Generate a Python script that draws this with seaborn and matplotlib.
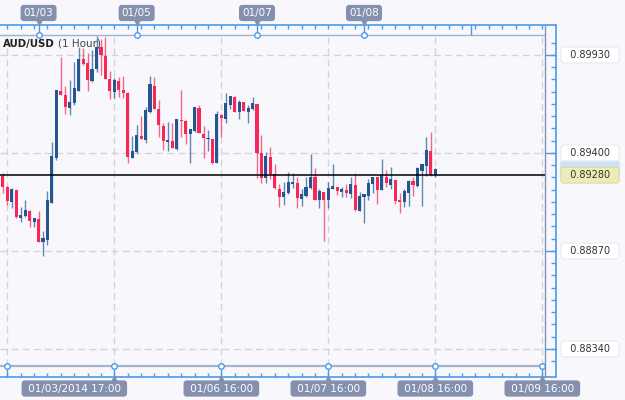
import numpy as np
import matplotlib
matplotlib.use('Agg')
import matplotlib.pyplot as plt
import seaborn as sns

# AUD/USD hourly candles
opens = [0.89276, 0.89218, 0.89137, 0.89200, 0.89047, 0.89059, 0.89085, 0.89029, 0.89042, 0.88917,
         0.88930, 0.89131, 0.89371, 0.89737, 0.89714, 0.89645, 0.89669, 0.89737, 0.89908, 0.89885,
         0.89789, 0.89853, 0.89972, 0.89925, 0.89799, 0.89732, 0.89791, 0.89741, 0.89726, 0.89371,
         0.89407, 0.89492, 0.89470, 0.89623, 0.89764, 0.89638, 0.89546, 0.89461, 0.89467, 0.89420,
         0.89578, 0.89573, 0.89501, 0.89521, 0.89642, 0.89501, 0.89476, 0.89476, 0.89344, 0.89606,
         0.89584, 0.89660, 0.89704, 0.89623, 0.89674, 0.89623, 0.89636, 0.89665, 0.89398, 0.89263,
         0.89380, 0.89286, 0.89205, 0.89160, 0.89182, 0.89232, 0.89236, 0.89150, 0.89169, 0.89209,
         0.89272, 0.89146, 0.89191, 0.89146, 0.89204, 0.89218, 0.89191, 0.89200, 0.89178, 0.89227,
         0.89088, 0.89160, 0.89168, 0.89232, 0.89269, 0.89200, 0.89272, 0.89227, 0.89254, 0.89146,
         0.89137, 0.89185, 0.89249, 0.89222, 0.89304, 0.89330, 0.89411, 0.89281]
highs = [0.89294, 0.89222, 0.89209, 0.89205, 0.89106, 0.89146, 0.89092, 0.89047, 0.89088, 0.88980,
         0.89196, 0.89460, 0.89741, 0.89921, 0.89762, 0.89795, 0.89894, 0.89972, 0.89966, 0.89942,
         0.89957, 0.90033, 0.90017, 0.90027, 0.89845, 0.89807, 0.89809, 0.89816, 0.89732, 0.89492,
         0.89550, 0.89600, 0.89647, 0.89816, 0.89813, 0.89687, 0.89561, 0.89569, 0.89564, 0.89582,
         0.89741, 0.89578, 0.89528, 0.89647, 0.89658, 0.89546, 0.89524, 0.89476, 0.89627, 0.89611,
         0.89726, 0.89708, 0.89708, 0.89687, 0.89674, 0.89660, 0.89701, 0.89665, 0.89497, 0.89407,
         0.89431, 0.89341, 0.89231, 0.89245, 0.89299, 0.89294, 0.89272, 0.89205, 0.89272, 0.89395,
         0.89317, 0.89204, 0.89191, 0.89245, 0.89341, 0.89218, 0.89215, 0.89232, 0.89269, 0.89290,
         0.89191, 0.89178, 0.89258, 0.89272, 0.89269, 0.89368, 0.89308, 0.89326, 0.89254, 0.89185,
         0.89204, 0.89254, 0.89269, 0.89326, 0.89341, 0.89488, 0.89512, 0.89317]
lows = [0.89185, 0.89117, 0.89104, 0.89050, 0.89027, 0.89056, 0.89001, 0.88998, 0.88920, 0.88843,
        0.88902, 0.89128, 0.89362, 0.89714, 0.89611, 0.89606, 0.89660, 0.89737, 0.89876, 0.89737,
        0.89786, 0.89840, 0.89822, 0.89799, 0.89690, 0.89696, 0.89701, 0.89696, 0.89348, 0.89371,
        0.89402, 0.89474, 0.89456, 0.89618, 0.89638, 0.89485, 0.89416, 0.89413, 0.89429, 0.89416,
        0.89488, 0.89449, 0.89348, 0.89515, 0.89507, 0.89375, 0.89411, 0.89339, 0.89344, 0.89488,
        0.89564, 0.89636, 0.89623, 0.89586, 0.89629, 0.89564, 0.89633, 0.89263, 0.89239, 0.89239,
        0.89258, 0.89204, 0.89110, 0.89119, 0.89178, 0.89212, 0.89101, 0.89115, 0.89164, 0.89205,
        0.89146, 0.89101, 0.88926, 0.89101, 0.89204, 0.89173, 0.89164, 0.89164, 0.89155, 0.89088,
        0.89088, 0.89020, 0.89146, 0.89182, 0.89123, 0.89200, 0.89215, 0.89204, 0.89124, 0.89074,
        0.89106, 0.89113, 0.89168, 0.89218, 0.89113, 0.89276, 0.89276, 0.89272]
closes = [0.89218, 0.89142, 0.89205, 0.89052, 0.89065, 0.89092, 0.89034, 0.89047, 0.88920, 0.88940,
          0.89146, 0.89384, 0.89741, 0.89714, 0.89650, 0.89674, 0.89750, 0.89908, 0.89881, 0.89795,
          0.89854, 0.89975, 0.89930, 0.89799, 0.89737, 0.89795, 0.89741, 0.89726, 0.89377, 0.89413,
          0.89497, 0.89474, 0.89633, 0.89772, 0.89638, 0.89551, 0.89467, 0.89472, 0.89429, 0.89582,
          0.89575, 0.89503, 0.89528, 0.89647, 0.89507, 0.89480, 0.89483, 0.89344, 0.89611, 0.89591,
          0.89672, 0.89708, 0.89623, 0.89677, 0.89629, 0.89642, 0.89669, 0.89398, 0.89263, 0.89384,
          0.89286, 0.89209, 0.89164, 0.89191, 0.89245, 0.89242, 0.89155, 0.89177, 0.89218, 0.89272,
          0.89146, 0.89195, 0.89146, 0.89209, 0.89223, 0.89196, 0.89205, 0.89182, 0.89232, 0.89092,
          0.89168, 0.89178, 0.89236, 0.89272, 0.89200, 0.89281, 0.89236, 0.89258, 0.89142, 0.89137,
          0.89196, 0.89250, 0.89227, 0.89317, 0.89341, 0.89416, 0.89281, 0.89312]

last_price = 0.89280
price_levels = [0.89930, 0.89400, 0.88870, 0.88340]
bottom_ticks = [1, 25, 49, 73, 97, 121]
bottom_labels = ['', '01/03/2014 17:00', '01/06 16:00', '01/07 16:00', '01/08 16:00', '01/09 16:00']
top_ticks = [8, 30, 57, 81]
top_labels = ['01/03', '01/05', '01/07', '01/08']

bg = '#F8F8FC'
blue = '#245690'
red = '#F8275A'
axis_blue = '#4A9BE8'
frame_gray = '#A9B3C8'
tag_fill = '#8590AF'

sns.set_theme(style='white', rc={'axes.facecolor': bg, 'figure.facecolor': bg})
plt.rcParams['font.family'] = ['DejaVu Sans']

fig = plt.figure(figsize=(6.25, 4), dpi=100)
ax = fig.add_axes([0, 34 / 400, 545 / 625, 331 / 400])

o = np.array(opens)
c = np.array(closes)
idx = np.arange(len(o))
colors = np.where(c >= o, blue, red)

ax.vlines(idx, lows, highs, colors=colors, lw=1, alpha=0.7, zorder=3)
ax.bar(idx, np.maximum(np.abs(c - o), 0.00005), bottom=np.minimum(o, c), width=0.7,
       color=colors, linewidth=0, zorder=4)
ax.axhline(last_price, color='black', lw=1.1, zorder=5)

ax.set_xticks(bottom_ticks)
ax.set_yticks(price_levels)
ax.grid(True, color='#D3D3DB', lw=1, ls=(0, (5, 3)), zorder=0)
ax.tick_params(length=0, labelbottom=False, labelleft=False)
for s in ax.spines.values():
    s.set_visible(False)

xt = ax.get_xaxis_transform()
yt = ax.get_yaxis_transform()
yb = -11 / 331
ytop = 1 + 10 / 331
xr = 1 + 11 / 545
kw = dict(transform=ax.transAxes, clip_on=False)

# inner gray frame and outer blue frame
ax.plot([0, 1], [0, 0], color=frame_gray, lw=1.6, **kw)
ax.plot([0, 1], [1, 1], color='#9FB1D2', lw=1, **kw)
ax.plot([1, 1], [yb, ytop], color='#7F93B8', lw=1, **kw)
ax.plot([0, xr], [yb, yb], color=axis_blue, lw=1.2, **kw)
ax.plot([0, xr], [ytop, ytop], color=axis_blue, lw=1.2, **kw)
ax.plot([xr, xr], [yb, ytop], color=axis_blue, lw=1.2, **kw)

# bottom ticks
minor = np.arange(1, 122, 3)
ax.vlines(minor, yb, yb + 4 / 331, color=axis_blue, lw=1, transform=xt, clip_on=False)
ax.vlines(bottom_ticks, yb, 0, color=axis_blue, lw=1, transform=xt, clip_on=False)
ax.plot(bottom_ticks, [0] * len(bottom_ticks), 'o', ms=4, mfc='white', mec=axis_blue, mew=1,
        transform=xt, clip_on=False, zorder=6)

# top ticks
ax.vlines(minor, ytop - 4 / 331, ytop, color=axis_blue, lw=1, transform=xt, clip_on=False)
ax.vlines(top_ticks + [105], 1, ytop, color=axis_blue, lw=1, transform=xt, clip_on=False)
ax.plot(top_ticks, [1] * len(top_ticks), 'o', ms=4, mfc='white', mec=axis_blue, mew=1,
        transform=xt, clip_on=False, zorder=6)

# right ticks
rminor = 0.89930 + 0.0006625 * np.arange(-26, 3)
rminor = rminor[(rminor > 0.88250) & (rminor < 0.90036)]
ax.hlines(rminor, xr - 5 / 545, xr, color=axis_blue, lw=1, transform=yt, clip_on=False)
ax.hlines(price_levels, 1, xr, color=axis_blue, lw=1, transform=yt, clip_on=False)

# price tags (the bid tag is hidden behind the others, only its edge shows)
px = 1 + 45 / 545
ax.text(px, closes[-1], ' ' * 17, transform=yt, ha='center', va='center',
        fontsize=7, clip_on=False, zorder=6,
        bbox=dict(boxstyle='round,pad=0.3', fc='#CFE2F8', ec='#CFE2F8'))
ax.text(px, last_price, f'  {last_price:.5f}  ', transform=yt, ha='center', va='center',
        fontsize=7, color='#333333', clip_on=False, zorder=7,
        bbox=dict(boxstyle='round,pad=0.3', fc='#EDECB8', ec='#DCDBA0', lw=0.8))
for p in price_levels:
    ax.text(px, p, f'  {p:.5f}  ', transform=yt, ha='center', va='center', fontsize=7,
            color='#333333', clip_on=False, zorder=8,
            bbox=dict(boxstyle='round,pad=0.3', fc='white', ec='#E8E8F0', lw=0.8))

# date tags
for t, lab in zip(bottom_ticks, bottom_labels):
    if not lab:
        continue
    shift = -40 if t == 25 else 0
    ax.annotate(f' {lab} ', xy=(t, -0.068), xycoords=xt, xytext=(shift, 0),
                textcoords='offset pixels', ha='center', va='center', fontsize=7.5,
                color='white', annotation_clip=False,
                bbox=dict(boxstyle='round,pad=0.3', fc=tag_fill, ec='none'))
    ax.plot([t], [-0.039], '^', ms=5, color=tag_fill, transform=xt, clip_on=False)
for t, lab in zip(top_ticks, top_labels):
    ax.text(t, 1.0665, lab, transform=xt, ha='center', va='center', fontsize=7.5,
            color='white', clip_on=False,
            bbox=dict(boxstyle='round,pad=0.3', fc=tag_fill, ec='none'))
    ax.plot([t], [1.039], 'v', ms=5, color=tag_fill, transform=xt, clip_on=False)

# title
title = ax.text(0.005, 1 - 9 / 331, 'AUD/USD', transform=ax.transAxes, fontsize=7.3,
                fontweight='bold', color='#222222', va='center', zorder=2)
ax.annotate('(1 Hour)', xy=(1, 0.5), xycoords=title, xytext=(4, 0),
            textcoords='offset pixels', va='center', fontsize=7.5, color='#444444', zorder=2)

ax.set_xlim(-0.65, 121.6)
ax.set_ylim(0.88248, 0.90038)

fig.savefig('out.png', dpi=100, facecolor=bg)
